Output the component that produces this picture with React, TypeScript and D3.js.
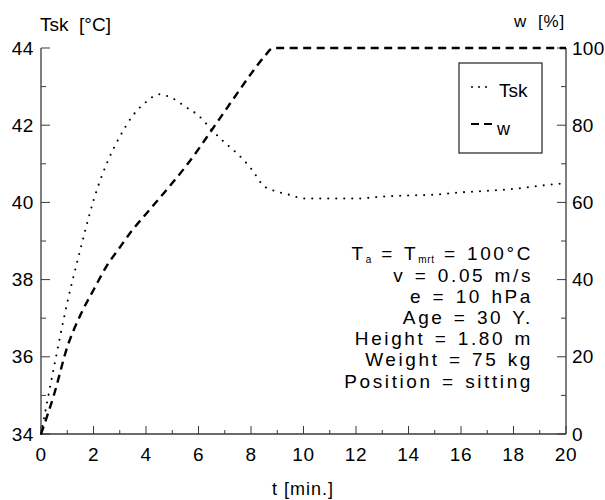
import React from 'react';
import * as d3 from 'd3';

// skin temperature Tsk [°C] over time
const tskTime = [0, 0.5, 1, 1.5, 2, 2.5, 3, 3.5, 4, 4.5, 5, 5.5, 6, 6.5, 7, 7.5, 8, 8.5, 9, 9.5, 10, 11, 12, 13, 14, 15, 16, 17, 18, 19, 20];
const tskValues = [34, 35.75, 37.4, 38.78, 40.05, 41.0, 41.7, 42.25, 42.6, 42.8, 42.7, 42.48, 42.25, 41.88, 41.55, 41.25, 40.88, 40.42, 40.28, 40.19, 40.1, 40.1, 40.1, 40.15, 40.18, 40.2, 40.26, 40.3, 40.35, 40.43, 40.5];

// skin wettedness w [%] over time
const wTime = [0, 0.5, 1, 1.5, 2, 2.5, 3, 3.5, 4, 4.5, 5, 5.5, 6, 6.5, 7, 7.5, 8, 8.5, 8.85, 20];
const wValues = [0, 10.3, 22.5, 30.8, 37.3, 43.5, 48.3, 53, 57, 61, 65, 69.2, 73.8, 78.7, 83.6, 88.5, 93.3, 97.7, 100, 100];

const xTicks = [0, 2, 4, 6, 8, 10, 12, 14, 16, 18, 20];
const tskTicks = [34, 36, 38, 40, 42, 44];
const wTicks = [0, 20, 40, 60, 80, 100];

const notes = ['v = 0.05 m/s', 'e = 10 hPa', 'Age = 30 Y.', 'Height = 1.80 m', 'Weight = 75 kg', 'Position = sitting'];

const FONT = '"Liberation Sans", Arial, Helvetica, sans-serif';

export default function App() {
  const W = 605;
  const H = 500;
  const left = 41;
  const right = 566;
  const top = 48;
  const bottom = 434;

  const x = d3.scaleLinear().domain([0, 20]).range([left, right]);
  const yT = d3.scaleLinear().domain([34, 44]).range([bottom, top]);
  const yW = d3.scaleLinear().domain([0, 100]).range([bottom, top]);

  const tskLine = d3.line<number>()
    .x((_, i) => x(tskTime[i]))
    .y(d => yT(d))
    .curve(d3.curveMonotoneX);
  const wLine = d3.line<number>()
    .x((_, i) => x(wTime[i]))
    .y(d => yW(d))
    .curve(d3.curveMonotoneX);

  const axisColor = '#3a3a3a';
  const dotted = { strokeDasharray: '0 8', strokeLinecap: 'round' as const, strokeWidth: 2.1 };
  const dashed = { strokeDasharray: '8 5.5', strokeWidth: 2.4 };

  const xMinor = d3.range(0, 21, 1);
  const tMinor = d3.range(34, 45, 1);
  const wMinor = d3.range(0, 101, 10);

  const noteX = 533;
  const noteStyle = { fontSize: 19, letterSpacing: 2.6, wordSpacing: 1.5 };

  return (
    <svg width={W} height={H} style={{ position: 'absolute', left: 0, top: 0, background: '#fff' }} fontFamily={FONT}>
      <rect width={W} height={H} fill="#fff" />

      {/* axes lines */}
      <line x1={left} x2={left} y1={top} y2={bottom} stroke={axisColor} strokeWidth={1.3} />
      <line x1={right} x2={right} y1={top} y2={bottom} stroke={axisColor} strokeWidth={1.3} />
      <line x1={left} x2={right} y1={bottom} y2={bottom} stroke={axisColor} strokeWidth={1.3} />

      {/* bottom ticks */}
      {xMinor.map(v => (
        <line key={'xm' + v} x1={x(v)} x2={x(v)} y1={bottom} y2={bottom - (v % 2 === 0 ? 8 : 4)} stroke={axisColor} strokeWidth={1} />
      ))}
      {xTicks.map(v => (
        <text key={'xl' + v} x={x(v)} y={461} textAnchor="middle" fontSize={19} letterSpacing={0.6}>{v}</text>
      ))}

      {/* left ticks */}
      {tMinor.map(v => (
        <line key={'tm' + v} x1={left} x2={left + (v % 2 === 0 ? 9 : 5)} y1={yT(v)} y2={yT(v)} stroke={axisColor} strokeWidth={1} />
      ))}
      {tskTicks.map(v => (
        <text key={'tl' + v} x={34} y={yT(v) + 6.5} textAnchor="end" fontSize={19} letterSpacing={0.6}>{v}</text>
      ))}

      {/* right ticks */}
      {wMinor.map(v => (
        <line key={'wm' + v} x1={right} x2={right - (v % 20 === 0 ? 9 : 5)} y1={yW(v)} y2={yW(v)} stroke={axisColor} strokeWidth={1} />
      ))}
      {wTicks.map(v => (
        <text key={'wl' + v} x={572} y={yW(v) + 6.5} textAnchor="start" fontSize={19} letterSpacing={0.3}>{v}</text>
      ))}

      {/* axis titles */}
      <text x={40} y={31} fontSize={19} xmlSpace="preserve">Tsk  [°C]</text>
      <text x={565} y={27} fontSize={17} textAnchor="end" letterSpacing={0.8} xmlSpace="preserve">w  [%]</text>
      <text x={303} y={495} fontSize={18} textAnchor="middle" letterSpacing={1}>t [min.]</text>

      {/* series */}
      <path d={tskLine(tskValues) || ''} fill="none" stroke="#000" {...dotted} />
      <path d={wLine(wValues) || ''} fill="none" stroke="#000" {...dashed} />

      {/* legend */}
      <rect x={459} y={63} width={83} height={90} fill="#fff" stroke="#222" strokeWidth={1.2} />
      <line x1={472} x2={492} y1={87} y2={87} stroke="#000" strokeWidth={2} strokeDasharray="0 7" strokeLinecap="round" />
      <text x={499} y={97} fontSize={19}>Tsk</text>
      <line x1={471} x2={496} y1={124} y2={124} stroke="#000" strokeWidth={2} strokeDasharray="8 5" />
      <text x={497} y={135} fontSize={18}>w</text>

      {/* conditions */}
      <text x={noteX} y={260} textAnchor="end" {...noteStyle}>
        T<tspan fontSize={10} dy={2.5} letterSpacing={0.6}>a</tspan>
        <tspan dy={-2.5}> = T</tspan>
        <tspan fontSize={10} dy={2.5} letterSpacing={0.6}>mrt</tspan>
        <tspan dy={-2.5}> = 100°C</tspan>
      </text>
      {notes.map((s, i) => (
        <text key={s} x={noteX} y={282 + i * 21.1} textAnchor="end" {...noteStyle}>{s}</text>
      ))}
    </svg>
  );
}
